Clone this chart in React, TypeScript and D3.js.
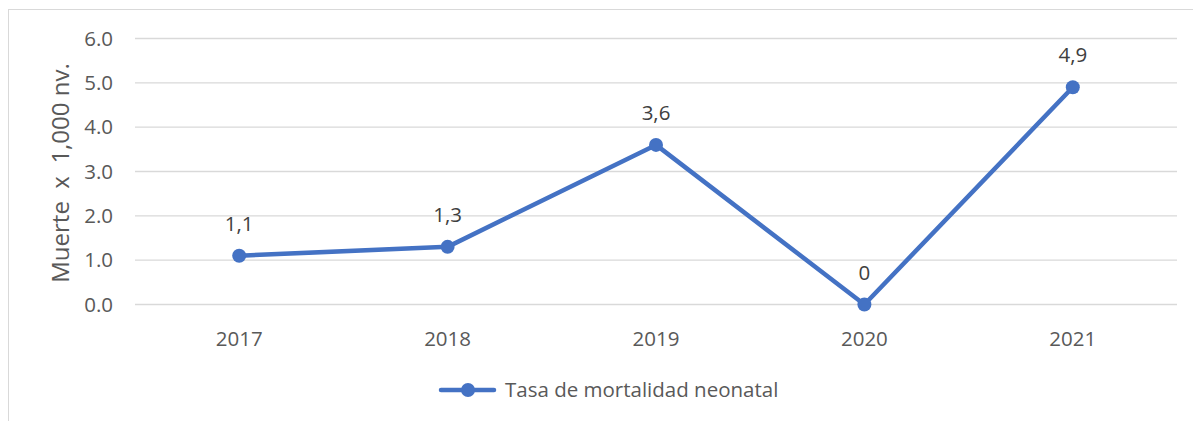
import React, { useRef, useEffect } from 'react';
import * as d3 from 'd3';

const years = ['2017', '2018', '2019', '2020', '2021'];
const rates = [1.1, 1.3, 3.6, 0, 4.9];
const rateLabels = ['1,1', '1,3', '3,6', '0', '4,9'];
const yTicks = [0, 1, 2, 3, 4, 5, 6];
const seriesName = 'Tasa de mortalidad neonatal';
const yTitle = 'Muerte  x  1,000 nv.';

const App = () => {
    const ref = useRef<SVGSVGElement>(null);

    useEffect(() => {
        if (!ref.current) return;
        const svg = d3.select(ref.current);
        svg.selectAll('*').remove();

        const font = '"Open Sans", "Noto Sans", sans-serif';
        const fs = 20.5;
        const textColor = '#595959';
        const blue = '#4472C4';

        // marco del grafico
        svg.append('rect')
            .attr('x', 8.5).attr('y', 9.5)
            .attr('width', 1200).attr('height', 430)
            .attr('fill', '#fff')
            .attr('stroke', '#d9d9d9');

        const x = d3.scaleBand().domain(years).range([135, 1177]);
        const y = d3.scaleLinear().domain([0, 6]).range([304.5, 38.5]);

        // lineas de cuadricula
        svg.append('g')
            .selectAll('line')
            .data(yTicks)
            .join('line')
            .attr('x1', 135).attr('x2', 1177)
            .attr('y1', d => y(d)).attr('y2', d => y(d))
            .attr('stroke', '#d9d9d9')
            .attr('stroke-width', 1.3);

        svg.append('g')
            .selectAll('text')
            .data(yTicks)
            .join('text')
            .attr('x', 113)
            .attr('y', d => y(d))
            .attr('dy', '0.35em')
            .attr('text-anchor', 'end')
            .style('font', `${fs}px ${font}`)
            .attr('fill', textColor)
            .text(d => d3.format('.1f')(d));

        svg.append('g')
            .selectAll('text')
            .data(years)
            .join('text')
            .attr('x', d => x(d)! + x.bandwidth() / 2)
            .attr('y', 339)
            .attr('dy', '0.35em')
            .attr('text-anchor', 'middle')
            .style('font', `${fs}px ${font}`)
            .attr('fill', textColor)
            .text(d => d);

        // titulo eje y
        svg.append('text')
            .attr('transform', 'translate(61,173) rotate(-90)')
            .attr('dy', '0.35em')
            .attr('text-anchor', 'middle')
            .attr('xml:space', 'preserve')
            .style('font', `24px ${font}`)
            .style('white-space', 'pre')
            .attr('fill', textColor)
            .text(yTitle);

        const cx = (i: number) => x(years[i])! + x.bandwidth() / 2;

        const line = d3.line<number>()
            .x((_, i) => cx(i))
            .y(d => y(d));

        svg.append('path')
            .datum(rates)
            .attr('d', line)
            .attr('fill', 'none')
            .attr('stroke', blue)
            .attr('stroke-width', 4.5)
            .attr('stroke-linejoin', 'round')
            .attr('stroke-linecap', 'round');

        svg.append('g')
            .selectAll('circle')
            .data(rates)
            .join('circle')
            .attr('cx', (_, i) => cx(i))
            .attr('cy', d => y(d))
            .attr('r', 7)
            .attr('fill', blue);

        svg.append('g')
            .selectAll('text')
            .data(rates)
            .join('text')
            .attr('x', (_, i) => cx(i))
            .attr('y', d => y(d) - 32)
            .attr('dy', '0.35em')
            .attr('text-anchor', 'middle')
            .style('font', `${fs}px ${font}`)
            .attr('fill', '#404040')
            .text((_, i) => rateLabels[i]);

        // leyenda
        const lg = svg.append('g').attr('transform', 'translate(0,390)');
        lg.append('line')
            .attr('x1', 441).attr('x2', 494)
            .attr('stroke', blue)
            .attr('stroke-width', 4.5)
            .attr('stroke-linecap', 'round');
        lg.append('circle').attr('cx', 468).attr('r', 7).attr('fill', blue);
        lg.append('text')
            .attr('x', 505)
            .attr('dy', '0.35em')
            .style('font', `${fs}px ${font}`)
            .attr('fill', textColor)
            .text(seriesName);
    }, []);

    return (
        <svg
            ref={ref}
            width={1193}
            height={421}
            style={{ position: 'absolute', left: 0, top: 0, display: 'block' }}
        />
    );
};

export default App;
